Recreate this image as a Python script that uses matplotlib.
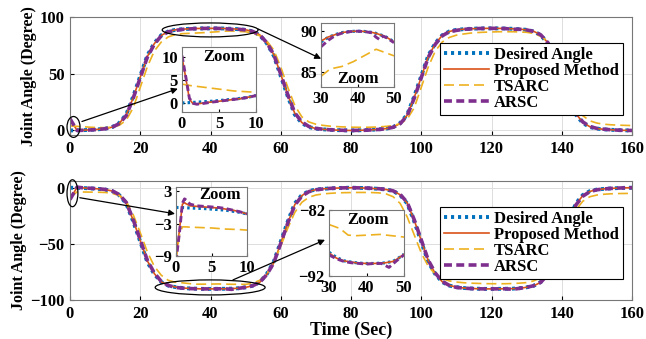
import matplotlib
matplotlib.use('Agg')
import matplotlib.pyplot as plt
from matplotlib.patches import Ellipse

plt.rcParams['font.family'] = ['Liberation Serif', 'DejaVu Serif']
plt.rcParams['font.weight'] = 'bold'
plt.rcParams['font.size'] = 12

# ---- data (time step 2 s) ----
t_main = list(range(0, 161, 2))

des_top = [0, 0.1, 0.3, 0.6, 1.0, 1.6, 3.0, 6.5, 14, 30, 48, 66, 77, 84, 87.3, 88.7, 89.25, 89.6, 89.85, 89.97,
           90, 89.97, 89.85, 89.6, 89.25, 88.7, 87.3, 84, 77, 66, 48, 30, 14, 6.5, 3.0, 1.6, 1.0, 0.6, 0.3, 0.1,
           0, 0.1, 0.3, 0.6, 1.0, 1.6, 3.0, 6.5, 14, 30, 48, 66, 77, 84, 87.3, 88.7, 89.25, 89.6, 89.85, 89.97,
           90, 89.97, 89.85, 89.6, 89.25, 88.7, 87.3, 84, 77, 66, 48, 30, 14, 6.5, 3.0, 1.6, 1.0, 0.6, 0.3, 0.1, 0]
prop_top = [10, 0.2, 0.3, 0.6, 1.0, 1.6, 2.9, 6.2, 13.5, 29, 47, 65, 76.5, 83.8, 87.2, 88.7, 89.25, 89.6, 89.85, 89.97,
            90, 89.97, 89.85, 89.6, 89.25, 88.7, 87.4, 84.3, 77.5, 67, 49.5, 31.5, 15, 7, 3.3, 1.7, 1.0, 0.6, 0.3, 0.1,
            0, 0.1, 0.3, 0.6, 1.0, 1.6, 2.9, 6.2, 13.5, 29, 47, 65, 76.5, 83.8, 87.2, 88.7, 89.25, 89.6, 89.85, 89.97,
            90, 89.97, 89.85, 89.6, 89.25, 88.7, 87.4, 84.3, 77.5, 67, 49.5, 31.5, 15, 7, 3.3, 1.7, 1.0, 0.6, 0.3, 0.1, 0]
tsarc_top = [4.1, 3.6, 3.2, 2.8, 2.6, 2.4, 3.0, 4.5, 9, 20, 38, 56, 70, 78, 82.5, 84.5, 85.3, 85.6, 85.9, 86.2,
             86.6, 87.0, 87.5, 87.7, 87.3, 87.0, 85.8, 83.5, 79, 71, 56, 38, 22, 12, 7.5, 5.5, 4.5, 3.8, 3.4, 3.1,
             2.9, 2.8, 2.8, 2.9, 3.1, 3.6, 4.3, 6, 10, 20, 38, 56, 70, 78, 82, 84, 85, 85.8, 86.3, 86.6,
             86.8, 87, 87, 87, 86.8, 86.5, 85.5, 83, 78.5, 70, 55, 38, 23, 13, 8.5, 6.5, 5.5, 5.0, 4.7, 4.5, 4.3]
arsc_top = [10.3, 0, 0.2, 0.5, 0.9, 1.5, 2.8, 6, 13, 28.5, 46.5, 64.5, 76, 83.5, 87, 88.1, 89.1, 89.5, 89.8, 89.95,
            90, 89.95, 89.8, 89.1, 89.2, 88.6, 87.3, 84.3, 77.5, 67, 49.5, 31.5, 15.5, 7.5, 3.5, 1.8, 1.1, 0.6, 0.3, 0.1,
            0, 0.1, 0.2, 0.5, 0.9, 1.5, 2.8, 6, 13, 28.5, 46.5, 64.5, 76, 83.5, 87, 88.2, 89.1, 89.5, 89.8, 89.95,
            90, 89.95, 89.8, 89.2, 89.2, 88.6, 87.3, 84.3, 77.5, 67, 49.5, 31.5, 15.5, 7.5, 3.5, 1.8, 1.1, 0.6, 0.3, 0.1, 0]

des_bot = [0, -0.1, -0.3, -0.6, -1.0, -1.6, -3.0, -6.5, -14, -30, -48, -66, -77, -84, -87.2, -88.5, -89.3, -89.7, -89.95, -90.1,
           -90.1, -90.05, -90, -89.9, -89.5, -88.7, -87.3, -84, -77, -66, -48, -30, -14, -6.5, -3.0, -1.6, -1.0, -0.6, -0.3, -0.1,
           0, -0.1, -0.3, -0.6, -1.0, -1.6, -3.0, -6.5, -14, -30, -48, -66, -77, -84, -87.2, -88.5, -89.3, -89.7, -89.95, -90.1,
           -90.1, -90.05, -90, -89.9, -89.5, -88.7, -87.3, -84, -77, -66, -48, -30, -14, -6.5, -3.0, -1.6, -1.0, -0.6, -0.3, -0.1, 0]
prop_bot = [-10, 0.2, -0.2, -0.6, -1.0, -1.6, -2.9, -6.2, -13.5, -29, -47, -65, -76.5, -83.8, -87.1, -88.4, -89.3, -89.7, -89.95, -90.1,
            -90.1, -90.05, -90, -89.9, -89.5, -88.7, -87.4, -84.3, -77.5, -67, -49.5, -31.5, -15, -7, -3.3, -1.7, -1.0, -0.6, -0.3, -0.1,
            0, -0.1, -0.3, -0.6, -1.0, -1.6, -2.9, -6.2, -13.5, -29, -47, -65, -76.5, -83.8, -87.1, -88.4, -89.3, -89.7, -89.95, -90.1,
            -90.1, -90.05, -90, -89.9, -89.5, -88.7, -87.4, -84.3, -77.5, -67, -49.5, -31.5, -15, -7, -3.3, -1.7, -1.0, -0.6, -0.3, -0.1, 0]
tsarc_bot = [-9, -3.7, -3.8, -3.9, -4.0, -4.2, -5, -7, -12, -24, -40, -57, -70, -78, -82.5, -84.2, -84.7, -85.4, -85.9, -85.9,
             -85.8, -85.7, -85.8, -86, -86, -86.1, -85, -82.5, -77, -67, -52, -36, -22, -13, -8.5, -6.5, -5.5, -5, -4.6, -4.4,
             -4.3, -4.2, -4.2, -4.3, -4.6, -5.5, -8, -14, -26, -42, -58, -70, -77, -81, -83, -84, -84.6, -85, -85.2, -85.4,
             -85.5, -85.5, -85.5, -85.3, -85, -84.5, -83, -80, -74, -63, -48, -33, -20, -12, -8, -6.5, -5.8, -5.4, -5.2, -5.1, -5]
arsc_bot = [-10.5, 0.5, -0.2, -0.5, -0.9, -1.5, -2.8, -6, -13, -28.5, -46.5, -64.5, -76, -83.5, -87, -88.8, -89.4, -89.8, -90, -90.1,
            -90.1, -90.05, -90, -90.5, -89.6, -88.7, -87.3, -84.3, -77.5, -67, -49.5, -31.5, -15.5, -7.5, -3.5, -1.8, -1.1, -0.6, -0.3, -0.1,
            0, -0.1, -0.2, -0.5, -0.9, -1.5, -2.8, -6, -13, -28.5, -46.5, -64.5, -76, -83.5, -87, -88.8, -89.4, -89.8, -90, -90.1,
            -90.1, -90.05, -90, -90.5, -89.6, -88.7, -87.3, -84.3, -77.5, -67, -49.5, -31.5, -15.5, -7.5, -3.5, -1.8, -1.1, -0.6, -0.3, -0.1, 0]

# ---- zoomed data (insets) ----
t_z1 = [0, 0.5, 1, 1.5, 2, 3, 4, 5, 6, 7, 8, 9, 10]
des_z1 = [0, 0, 0.05, 0.1, 0.15, 0.25, 0.35, 0.5, 0.65, 0.8, 1.0, 1.25, 1.6]
prop_z1 = [10, 5.5, 0.8, -0.2, -0.25, 0, 0.2, 0.35, 0.55, 0.75, 0.95, 1.25, 1.6]
tsarc_z1 = [4.1, 3.95, 3.8, 3.7, 3.6, 3.4, 3.2, 3.0, 2.8, 2.6, 2.5, 2.4, 2.3]
arsc_z1 = [10.3, 5.8, 1.0, -0.1, -0.3, -0.1, 0.15, 0.35, 0.55, 0.75, 0.95, 1.2, 1.6]

t_z2 = [30, 32, 34, 36, 38, 40, 42, 44, 45, 46, 47, 48, 50]
des_z2 = [88.7, 89.25, 89.6, 89.85, 89.97, 90, 89.97, 89.85, 89.75, 89.6, 89.45, 89.25, 88.7]
prop_z2 = [88.8, 89.3, 89.6, 89.85, 89.97, 90, 89.97, 89.85, 89.75, 89.6, 89.45, 89.25, 88.7]
t_tz2 = [30, 32.5, 35.7, 38.9, 45.1, 50]
tsarc_z2 = [84.5, 85.4, 85.7, 86.3, 87.8, 87.0]
arsc_z2 = [88.1, 88.9, 89.5, 89.8, 89.95, 90, 89.95, 89.8, 89.3, 89.0, 89.4, 89.2, 88.6]

t_z3 = [0, 0.5, 0.9, 1.2, 1.4, 2, 3, 4, 5, 6, 7, 8, 9, 10]
des_z3 = [0, 0, 0, -0.02, -0.05, -0.1, -0.15, -0.2, -0.3, -0.4, -0.5, -0.7, -0.9, -1.2]
prop_z3 = [-9.5, -4, 0.6, 0.9, 0.7, 0.3, 0.2, 0.1, 0, -0.1, -0.3, -0.5, -0.8, -1.2]
tsarc_z3 = [-9.5, -5, -3.6, -3.6, -3.6, -3.65, -3.7, -3.75, -3.8, -3.9, -4.0, -4.05, -4.1, -4.2]
arsc_z3 = [-10, -4.5, 0.8, 1.6, 1.4, 0.6, 0.3, 0.2, 0.1, 0, -0.2, -0.5, -0.8, -1.2]

t_z4 = [30, 32, 34, 36, 38, 40, 42, 44, 45, 46, 47, 48, 50]
des_z4 = [-88.4, -89.2, -89.7, -89.9, -90.05, -90.1, -90.1, -90.05, -90.0, -89.9, -89.8, -89.5, -88.7]
prop_z4 = [-88.5, -89.3, -89.7, -89.9, -90.05, -90.1, -90.1, -90.05, -90.0, -89.9, -89.8, -89.5, -88.7]
t_tz4 = [30, 32.9, 35.1, 37, 43.6, 50]
tsarc_z4 = [-84.2, -84.8, -85.8, -85.9, -85.7, -86.1]
arsc_z4 = [-88.8, -89.4, -89.8, -90.0, -90.1, -90.2, -90.1, -90.1, -90.4, -90.7, -90.2, -89.7, -88.8]

labels = ['Desired Angle', 'Proposed Method', 'TSARC', 'ARSC']
colors = ['#0072BD', '#D95319', '#EDB120', '#7E2F8E']


def draw_series(ax, t, d, p, ts, a, t_ts=None, thin=False):
    '''
    draw the four series on one axes
    '''
    if t_ts is None:
        t_ts = t
    k = 0.8 if thin else 1.0
    ax.plot(t, d, color=colors[0], lw=2.8 * k, dashes=(0.8, 1.0), label=labels[0])
    ax.plot(t, p, color=colors[1], lw=1.2, label=labels[1])
    ax.plot(t_ts, ts, color=colors[2], lw=1.2, dashes=(6, 3), label=labels[2])
    ax.plot(t, a, color=colors[3], lw=2.6 * k, dashes=(2.2, 1.2), label=labels[3])


def style_main(ax, ylim, yticks):
    ax.set_xlim(0, 160)
    ax.set_ylim(*ylim)
    ax.set_xticks(range(0, 161, 20))
    ax.set_yticks(yticks)
    ax.grid(True, color='#dddddd', lw=0.7)
    ax.set_axisbelow(True)
    ax.tick_params(direction='in', length=3, labelsize=12, pad=4)
    for s in ax.spines.values():
        s.set_color('#777777')
        s.set_linewidth(0.8)
    ax.set_ylabel('Joint Angle (Degree)', fontsize=11.5, fontweight='bold', labelpad=2)


def style_inset(ax, xlim, ylim, xticks, yticks, zoom_xy):
    ax.set_xlim(*xlim)
    ax.set_ylim(*ylim)
    ax.set_xticks(xticks)
    ax.set_yticks(yticks)
    ax.tick_params(direction='in', length=2, labelsize=12, pad=3)
    for s in ax.spines.values():
        s.set_color('#777777')
        s.set_linewidth(0.8)
    ax.text(zoom_xy[0], zoom_xy[1], 'Zoom', transform=ax.transAxes, ha='center', va='center',
            fontsize=12, fontweight='bold')


fig = plt.figure(figsize=(6.46, 3.39), dpi=100)
W, H = 646, 339

ax1 = fig.add_axes([70 / W, 1 - 135 / H, 562 / W, 118 / H])
ax2 = fig.add_axes([70 / W, 1 - 300 / H, 562 / W, 119 / H])

draw_series(ax1, t_main, des_top, prop_top, tsarc_top, arsc_top)
style_main(ax1, (-4, 100), [0, 50, 100])
draw_series(ax2, t_main, des_bot, prop_bot, tsarc_bot, arsc_bot)
style_main(ax2, (-100, 6), [-100, -50, 0])
ax2.set_xlabel('Time (Sec)', fontsize=13, fontweight='bold', labelpad=0)

for ax in (ax1, ax2):
    ax.legend(loc='upper left', bbox_to_anchor=(440 / W, 1 - (43 if ax is ax1 else 207) / H),
              bbox_transform=fig.transFigure, fancybox=False, edgecolor='black', framealpha=1,
              fontsize=12, handlelength=2.7, labelspacing=0.0, borderpad=0.25, handletextpad=0.3,
              borderaxespad=0)
    ax.get_legend().get_frame().set_linewidth(0.8)

# ellipses and arrows
ell_kw = dict(fill=False, edgecolor='black', lw=0.9, clip_on=False, zorder=6)
ax1.add_patch(Ellipse((1.0, 3.1), 3.7, 18.4, **ell_kw))
ax1.add_patch(Ellipse((39.9, 88.6), 27.3, 12.3, **ell_kw))
ax2.add_patch(Ellipse((0.7, -4.9), 3.1, 24, **ell_kw))
ax2.add_patch(Ellipse((39.9, -88.8), 31.3, 13.4, **ell_kw))

arr_kw = dict(arrowstyle='-|>', color='black', lw=0.9, mutation_scale=9, shrinkA=0, shrinkB=0)
ax1.annotate('', xy=(30.7, 36.8), xytext=(3.4, 7.9), arrowprops=arr_kw, annotation_clip=False)
ax1.annotate('', xy=(71.5, 63.2), xytext=(53.5, 89.5), arrowprops=arr_kw, annotation_clip=False)
ax2.annotate('', xy=(29.9, -23.2), xytext=(2.8, -8.9), arrowprops=arr_kw, annotation_clip=False)
ax2.annotate('', xy=(72.6, -46.4), xytext=(46.4, -82.1), arrowprops=arr_kw, annotation_clip=False)

# insets
in1 = fig.add_axes([182 / W, 1 - 112 / H, 74 / W, 65 / H])
draw_series(in1, t_z1, des_z1, prop_z1, tsarc_z1, arsc_z1, thin=True)
style_inset(in1, (0, 10), (-2, 12.2), [0, 5, 10], [0, 5, 10], (0.57, 0.84))

in2 = fig.add_axes([321 / W, 1 - 87 / H, 73 / W, 64 / H])
draw_series(in2, t_z2, des_z2, prop_z2, tsarc_z2, arsc_z2, t_ts=t_tz2, thin=True)
style_inset(in2, (30, 50), (83.2, 91), [30, 40, 50], [85, 90], (0.5, 0.13))

in3 = fig.add_axes([176 / W, 1 - 256 / H, 71 / W, 69 / H])
draw_series(in3, t_z3, des_z3, prop_z3, tsarc_z3, arsc_z3, thin=True)
style_inset(in3, (0, 10), (-9, 3.8), [0, 5, 10], [-9, -3, 3], (0.62, 0.88))

in4 = fig.add_axes([329 / W, 1 - 276 / H, 75 / W, 66 / H])
draw_series(in4, t_z4, des_z4, prop_z4, tsarc_z4, arsc_z4, t_ts=t_tz4, thin=True)
style_inset(in4, (30, 50), (-92, -82), [30, 40, 50], [-92, -82], (0.52, 0.85))

fig.savefig('out.png', dpi=100)
